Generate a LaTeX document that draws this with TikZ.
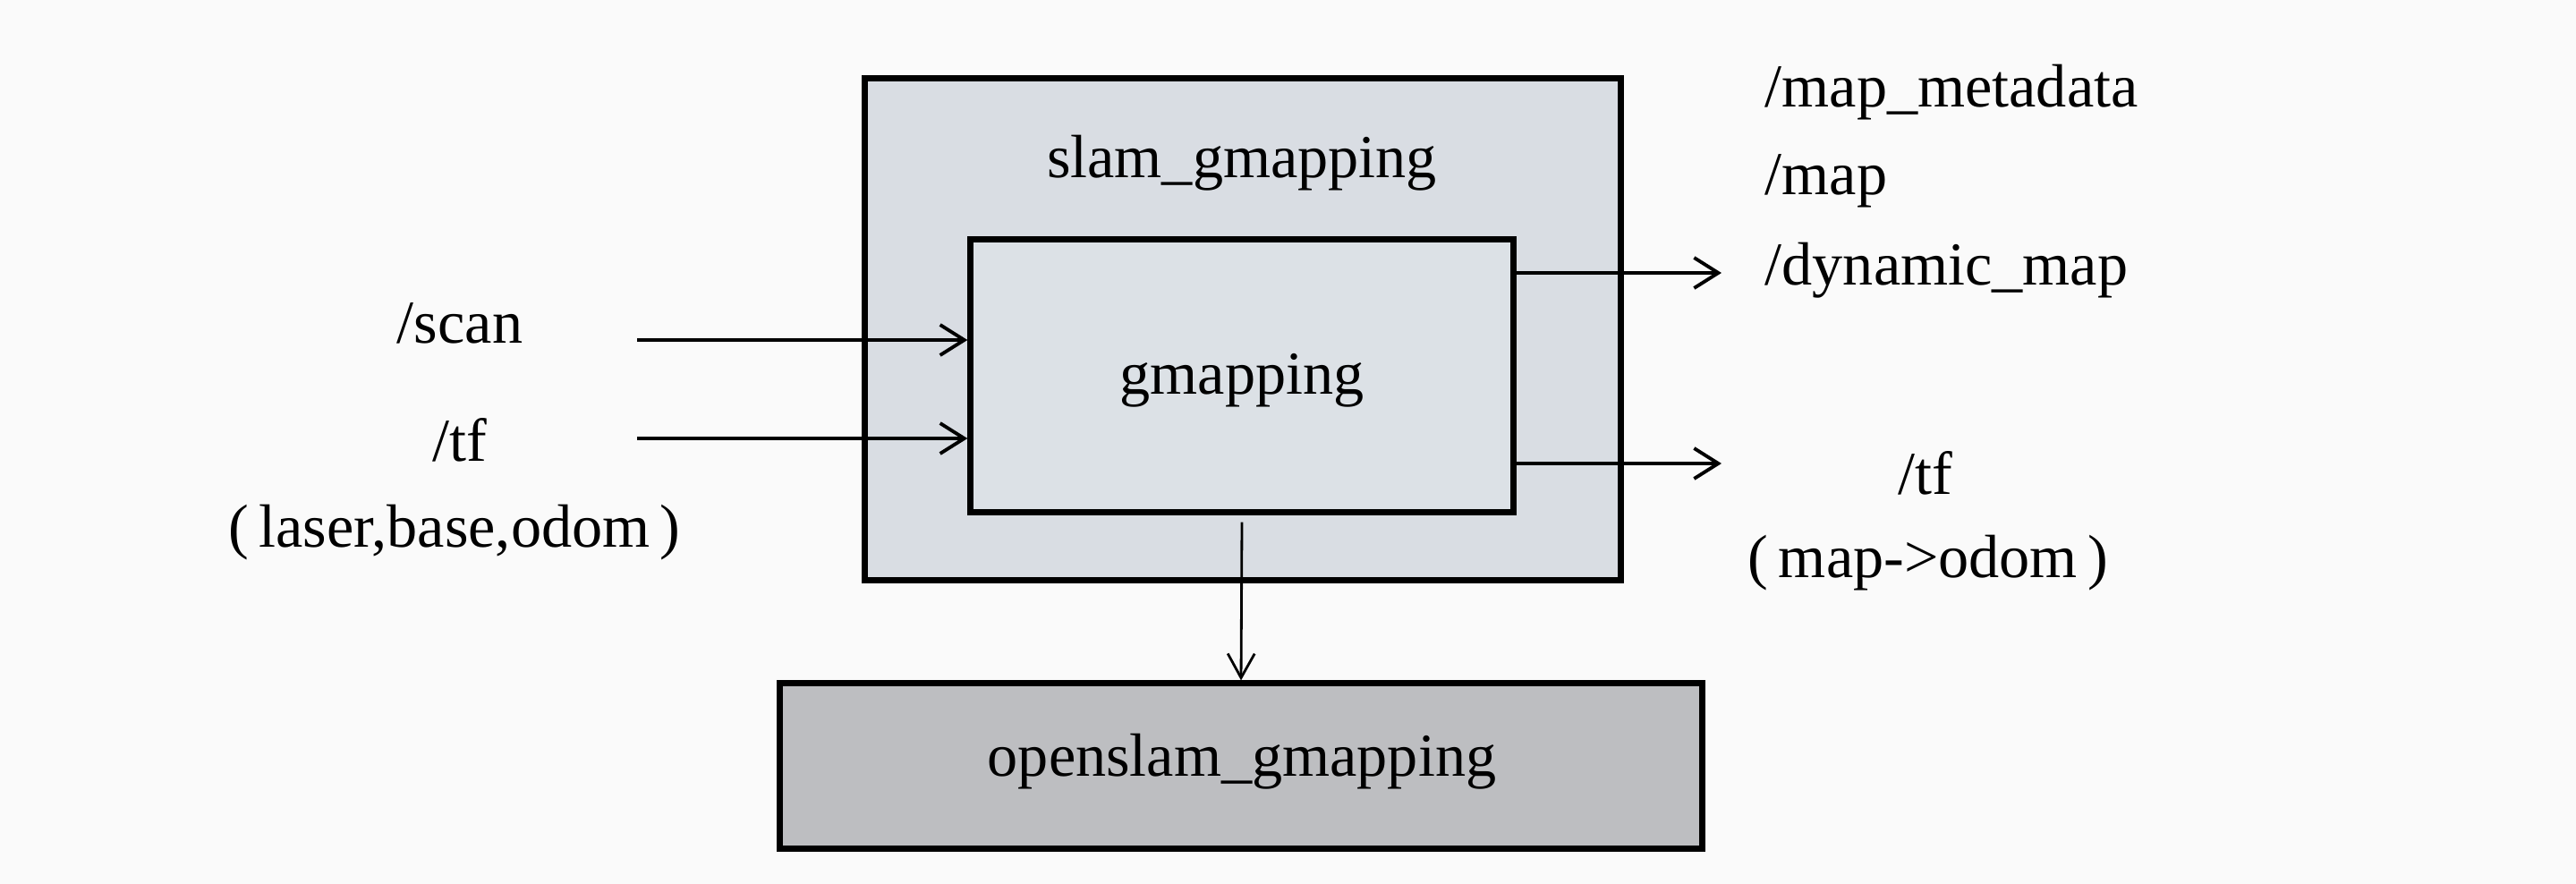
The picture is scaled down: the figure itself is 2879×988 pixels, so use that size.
\documentclass[tikz,border=0pt]{standalone}
\usepackage{fontspec}
\setmainfont{Liberation Serif}
\usetikzlibrary{arrows.meta,calc}
\definecolor{outerfill}{HTML}{D9DDE3}
\definecolor{innerfill}{HTML}{DCE1E6}
\definecolor{libfill}{HTML}{BDBEC1}
\definecolor{bg}{HTML}{FAFAFA}
\tikzset{
  pkgbox/.style={draw=black, line width=2pt, inner sep=0pt},
  lbl/.style={font=\fontsize{19.4}{23}\selectfont, inner sep=0pt},
  arr/.style={line width=1.1pt, -{Straight Barb[length=0.27cm,width=0.34cm,line width=1.1pt]}},
  thinarr/.style={line width=0.8pt, -{Straight Barb[length=0.27cm,width=0.30cm,line width=0.8pt]}}
}
\begin{document}
\begin{tikzpicture}[x=0.01cm,y=-0.01cm]
\fill[bg] (0,0) rectangle (2879,988);
\useasboundingbox (0,0) rectangle (2879,988);
% boxes
\node[pkgbox, fill=outerfill, minimum width=8.44cm, minimum height=5.60cm] (outer) at (1389,368) {};
\node[pkgbox, fill=innerfill, minimum width=6.06cm, minimum height=3.04cm] (inner) at (1388,420) {};
\node[pkgbox, fill=libfill, minimum width=10.30cm, minimum height=1.84cm] (lib) at (1387,856) {};
% box labels
\node[lbl] (slamlbl) at (1388,182) {slam\_gmapping};
\node[lbl] (gmlbl) at (1388,425) {gmapping};
\node[lbl] (liblbl) at (1388,851) {openslam\_gmapping};
% input labels
\node[lbl] (scan) at (514,361) {/scan};
\node[lbl] (tfin) at (514,492) {/tf};
\node[lbl] (tfinsub) at (508,595) {(\,laser,base,odom\,)};
% output labels
\node[lbl, anchor=west] (meta) at (1972,103) {/map\_metadata};
\node[lbl, anchor=west] (map) at (1972,202) {/map};
\node[lbl, anchor=west] (dyn) at (1972,302) {/dynamic\_map};
\node[lbl] (tfout) at (2152,529) {/tf};
\node[lbl] (tfoutsub) at (2155,629) {(\,map->odom\,)};
% connectors
\coordinate (scanS) at (712,380);
\coordinate (tfS) at (712,490);
\coordinate (dynE) at (1924,305);
\coordinate (tfE) at (1924,518);
\draw[arr] (scanS) -- (scanS -| inner.west);
\draw[arr] (tfS) -- (tfS -| inner.west);
\draw[arr] (dynE -| inner.east) -- (dynE);
\draw[arr] (tfE -| inner.east) -- (tfE);
\draw[thinarr] ([yshift=-0.08cm]inner.south) -- (lib.north);
\end{tikzpicture}
\end{document}
